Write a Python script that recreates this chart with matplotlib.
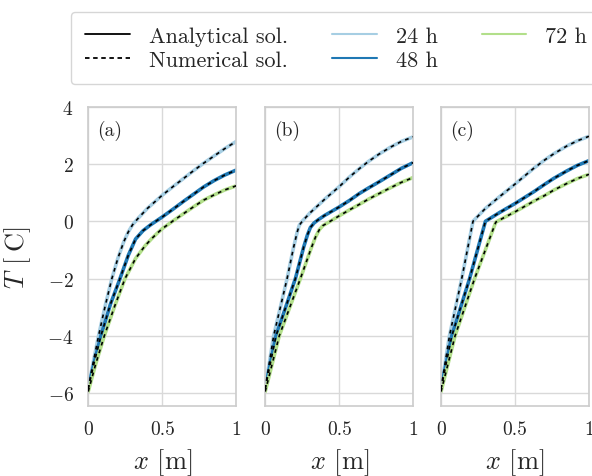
import matplotlib
matplotlib.use("Agg")
import matplotlib.pyplot as plt
import seaborn as sns
from matplotlib.lines import Line2D

sns.set_style("whitegrid")
plt.rcParams["font.family"] = "serif"
plt.rcParams["font.serif"] = ["cmr10"]
plt.rcParams["mathtext.fontset"] = "cm"
plt.rcParams["axes.formatter.use_mathtext"] = True
plt.rcParams["axes.unicode_minus"] = True

# x [m] and T [C] for each panel / time
labels = ["24 h", "48 h", "72 h"]
colors = ["#a6cee3", "#1f78b4", "#b2df8a"]
panel_names = ["(a)", "(b)", "(c)"]

# panel (a)
x24a = [0, 0.035, 0.07, 0.115, 0.16, 0.2, 0.24, 0.27, 0.3, 0.34, 0.4, 0.5,
        0.575, 0.645, 0.71, 0.78, 0.85, 0.92, 1.0]
T24a = [-5.85, -4.9, -4.0, -2.95, -2.0, -1.3, -0.72, -0.38, -0.12, 0.12, 0.45,
        0.91, 1.22, 1.5, 1.76, 2.03, 2.28, 2.53, 2.79]
x48a = [0, 0.04, 0.086, 0.15, 0.215, 0.27, 0.32, 0.37, 0.42, 0.46, 0.5,
        0.575, 0.645, 0.71, 0.78, 0.85, 0.92, 1.0]
T48a = [-5.85, -4.95, -4.0, -2.9, -2.0, -1.2, -0.62, -0.33, -0.13, 0.01, 0.15,
        0.43, 0.70, 0.94, 1.2, 1.42, 1.61, 1.79]
x72a = [0, 0.05, 0.109, 0.18, 0.249, 0.32, 0.385, 0.43, 0.47, 0.5, 0.575,
        0.645, 0.71, 0.78, 0.85, 0.92, 1.0]
T72a = [-5.95, -5.0, -4.0, -2.95, -2.0, -1.3, -0.85, -0.6, -0.4, -0.26, 0.02,
        0.27, 0.5, 0.74, 0.92, 1.09, 1.24]

# panel (b)
x24b = [0, 0.057, 0.148, 0.19, 0.216, 0.23, 0.25, 0.3, 0.35, 0.408, 0.5,
        0.57, 0.636, 0.7, 0.77, 0.85, 0.92, 1.0]
T24b = [-5.85, -4.0, -2.0, -0.95, -0.38, -0.14, 0.0, 0.28, 0.52, 0.8, 1.21,
        1.55, 1.84, 2.1, 2.35, 2.6, 2.79, 2.95]
x48b = [0, 0.073, 0.204, 0.26, 0.285, 0.305, 0.33, 0.36, 0.4, 0.5, 0.57,
        0.636, 0.7, 0.77, 0.85, 0.92, 1.0]
T48b = [-5.85, -4.0, -2.0, -0.9, -0.48, -0.22, -0.06, 0.06, 0.2, 0.5, 0.73,
        0.97, 1.17, 1.38, 1.63, 1.85, 2.05]
x72b = [0, 0.095, 0.238, 0.31, 0.34, 0.365, 0.39, 0.42, 0.5, 0.57, 0.636,
        0.7, 0.77, 0.85, 0.92, 1.0]
T72b = [-5.95, -4.0, -2.0, -0.95, -0.55, -0.3, -0.15, -0.06, 0.19, 0.4, 0.59,
        0.78, 0.97, 1.18, 1.36, 1.53]

# panel (c)
x24c = [0, 0.057, 0.14, 0.216, 0.3, 0.4, 0.5, 0.626, 0.7, 0.762, 0.85, 0.92, 1.0]
T24c = [-5.85, -4.0, -2.0, 0.0, 0.45, 0.88, 1.3, 1.85, 2.14, 2.36, 2.63, 2.81, 2.97]
x48c = [0, 0.073, 0.193, 0.30, 0.4, 0.5, 0.626, 0.7, 0.762, 0.85, 0.92, 1.0]
T48c = [-5.85, -4.0, -2.0, 0.0, 0.32, 0.62, 1.03, 1.29, 1.5, 1.76, 1.95, 2.12]
x72c = [0, 0.095, 0.227, 0.37, 0.43, 0.5, 0.626, 0.7, 0.762, 0.85, 0.92, 1.0]
T72c = [-5.95, -4.0, -2.0, -0.03, 0.14, 0.33, 0.70, 0.9, 1.09, 1.32, 1.49, 1.64]

panels = [
    [(x24a, T24a), (x48a, T48a), (x72a, T72a)],
    [(x24b, T24b), (x48b, T48b), (x72b, T72b)],
    [(x24c, T24c), (x48c, T48c), (x72c, T72c)],
]

fig = plt.figure(figsize=(5.92, 4.77), dpi=100)
lefts = [0.149, 0.448, 0.745]
for i, curves in enumerate(panels):
    ax = fig.add_axes([lefts[i], 0.147, 0.25, 0.627])
    for (x, T), c in zip(curves, colors):
        ax.plot(x, T, color=c, lw=2.6, zorder=2)
        ax.plot(x, T, color="k", lw=1.2, ls=(0, (2.2, 2.6)), zorder=3)
    ax.set_xlim(0, 1)
    ax.set_ylim(-6.45, 4)
    ax.set_xticks([0, 0.5, 1])
    ax.set_xticklabels(["0", "0.5", "1"])
    ax.set_yticks([-6, -4, -2, 0, 2, 4])
    ax.tick_params(labelsize=14, pad=7)
    ax.set_xlabel("$x$ [m]", fontsize=19, labelpad=6)
    if i == 0:
        ax.set_ylabel("$T$ [$\\;$C]", fontsize=19)
        ax.yaxis.set_label_coords(-0.37, 0.5)
    else:
        ax.set_yticklabels([])
    for s in ax.spines.values():
        s.set_color("#cccccc")
        s.set_linewidth(1.2)
    ax.grid(color="#d9d9d9", lw=1.0)
    ax.text(0.06, 0.955, panel_names[i], transform=ax.transAxes, fontsize=14,
            va="top", ha="left")

handles = [
    Line2D([], [], color="k", lw=1.3),
    Line2D([], [], color="k", lw=1.3, ls=(0, (2.5, 2.0))),
    Line2D([], [], color=colors[0], lw=1.5),
    Line2D([], [], color=colors[1], lw=1.5),
    Line2D([], [], color=colors[2], lw=1.5),
]
names = ["Analytical sol.", "Numerical sol."] + labels
fig.legend(handles, names, ncol=3, loc="upper left",
           bbox_to_anchor=(0.12, 0.973), fontsize=16, frameon=True,
           edgecolor="#cccccc", handlelength=2.0, handletextpad=0.85,
           columnspacing=2.0, labelspacing=0.2, borderpad=0.65,
           borderaxespad=0.0)

fig.savefig("out.png", dpi=100)
